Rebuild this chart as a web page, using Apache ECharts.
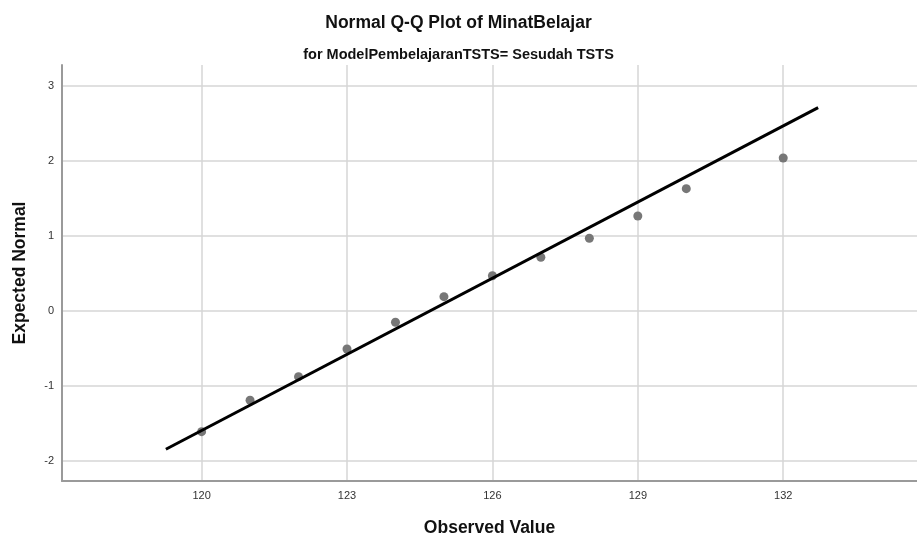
<!DOCTYPE html>
<html>
<head>
<meta charset="utf-8">
<script src="https://cdn.jsdelivr.net/npm/echarts@6/dist/echarts.min.js"></script>
<style>
  html, body { margin: 0; padding: 0; background: #fff; }
  #chart { width: 917px; height: 539px; }
</style>
</head>
<body>
<div id="chart"></div>
<script>
// Observed values and their expected normal scores
const observed = [120, 121, 122, 123, 124, 125, 126, 127, 128, 129, 130, 132];
const expectedNormal = [-1.615, -1.196, -0.881, -0.511, -0.155, 0.187, 0.467, 0.713, 0.967, 1.264, 1.629, 2.039];

// Reference line end points
const refLineX = [119.263, 132.72];
const refLineY = [-1.85, 2.71];

// Axis ticks
const xTicks = [120, 123, 126, 129, 132];
const yTicks = [-2, -1, 0, 1, 2, 3];

const font = 'Arial, "Liberation Sans", Helvetica, sans-serif';

const chart = echarts.init(document.getElementById('chart'), null, { renderer: 'canvas' });

chart.setOption({
  animation: false,
  backgroundColor: '#ffffff',
  title: [
    {
      text: 'Normal Q-Q Plot of MinatBelajar',
      left: 'center',
      top: 9,
      textStyle: { fontFamily: font, fontSize: 17.5, fontWeight: 'bold', color: '#111' }
    },
    {
      text: 'for ModelPembelajaranTSTS= Sesudah TSTS',
      left: 'center',
      top: 42,
      textStyle: { fontFamily: font, fontSize: 14.5, fontWeight: 'bold', color: '#111' }
    }
  ],
  grid: { left: 62, right: 0, top: 65, bottom: 58, containLabel: false, outerBoundsMode: 'none' },
  xAxis: {
    type: 'value',
    min: 117.12,
    max: 134.76,
    name: 'Observed Value',
    nameLocation: 'middle',
    nameGap: 38,
    nameTextStyle: { fontFamily: font, fontSize: 17.5, fontWeight: 'bold', color: '#111' },
    axisLine: { show: true, onZero: false, lineStyle: { color: '#9a9a9a', width: 2 } },
    axisTick: { show: false, customValues: xTicks },
    axisLabel: { customValues: xTicks, fontFamily: font, fontSize: 11, color: '#333', margin: 9 },
    splitLine: { show: true, lineStyle: { color: '#d6d6d6', width: 1.5 } }
  },
  yAxis: {
    type: 'value',
    min: -2.274,
    max: 3.28,
    name: 'Expected Normal',
    nameLocation: 'middle',
    nameRotate: 90,
    nameGap: 33,
    nameTextStyle: { fontFamily: font, fontSize: 17.5, fontWeight: 'bold', color: '#111' },
    axisLine: { show: true, onZero: false, lineStyle: { color: '#9a9a9a', width: 2 } },
    axisTick: { show: false, customValues: yTicks },
    axisLabel: { customValues: yTicks, fontFamily: font, fontSize: 11, color: '#333', margin: 8 },
    splitLine: { show: true, lineStyle: { color: '#d6d6d6', width: 1.5 } }
  },
  series: [
    {
      type: 'line',
      data: refLineX.map((x, i) => [x, refLineY[i]]),
      showSymbol: false,
      symbol: 'none',
      lineStyle: { color: '#000', width: 3 },
      z: 3
    },
    {
      type: 'scatter',
      data: observed.map((x, i) => [x, expectedNormal[i]]),
      symbolSize: 9,
      itemStyle: { color: '#777777', opacity: 1 },
      z: 2
    }
  ]
});
</script>
</body>
</html>
